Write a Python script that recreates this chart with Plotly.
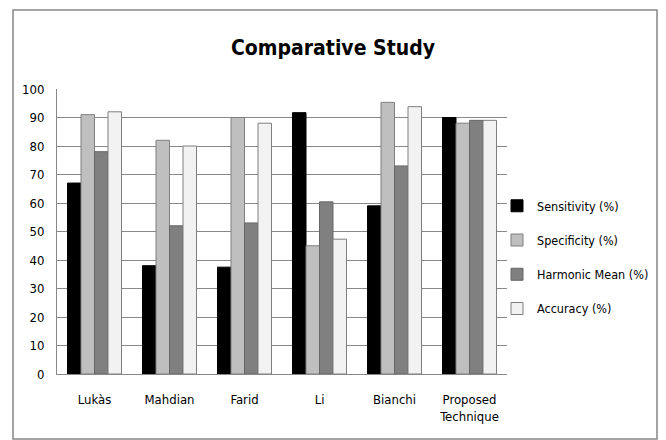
import plotly.graph_objects as go

categories = ["Lukàs", "Mahdian", "Farid", "Li", "Bianchi", "Proposed<br>Technique"]
sensitivity = [67, 38, 37.5, 91.7, 59, 90]
specificity = [91, 82, 90, 45, 95.3, 88]
harmonic_mean = [78, 52, 53, 60.4, 73, 89]
accuracy = [92, 80, 88, 47.3, 93.8, 89]

series = [
    ("Sensitivity (%)", sensitivity, "#000000", "#000000"),
    ("Specificity (%)", specificity, "#bfbfbf", "#7f7f7f"),
    ("Harmonic Mean (%)", harmonic_mean, "#808080", "#666666"),
    ("Accuracy (%)", accuracy, "#f2f2f2", "#7f7f7f"),
]

FONT = "DejaVu Sans Condensed, Liberation Sans Narrow, sans-serif"

# plot area in figure pixels (page body adds an 8px offset)
PL, PR, PT, PB = 49, 499, 81, 366
PW, PH = PR - PL, PB - PT

fig = go.Figure()
for i, (name, vals, color, line) in enumerate(series):
    fig.add_trace(go.Bar(
        x=categories, y=vals, name=name, legendgroup=str(i),
        marker=dict(color=color, line=dict(color=line, width=1)),
    ))

fig.update_layout(
    width=666, height=440,
    margin=dict(l=PL, r=666 - PR, t=PT, b=440 - PB, autoexpand=False),
    paper_bgcolor="white", plot_bgcolor="white",
    barmode="group", bargap=0.28, bargroupgap=0,
    font=dict(family=FONT, size=13, color="#000000"),
    title=dict(text="<b>Comparative Study</b>", x=325 / 666, xref="container", xanchor="center",
               y=1 - 40 / 440, yref="container", yanchor="middle",
               font=dict(family=FONT, size=21, color="#000000")),
    showlegend=True,
    legend=dict(x=(489 - PL) / PW, xanchor="left", y=0.41, yanchor="middle",
                traceorder="grouped", tracegroupgap=15,
                font=dict(family=FONT, size=12.5, color="#000000"),
                itemwidth=30, bgcolor="rgba(0,0,0,0)"),
    shapes=[dict(type="rect", xref="paper", yref="paper",
                 x0=(5 - PL) / PW, x1=(649 - PL) / PW,
                 y0=(PB - 431) / PH, y1=(PB - 2) / PH,
                 line=dict(color="#878787", width=1.5), layer="below")],
)
fig.update_yaxes(range=[0, 100], dtick=10, showgrid=True, gridcolor="#888888", gridwidth=1,
                 showline=True, linecolor="#888888", linewidth=1, zeroline=False,
                 ticks="", ticklabelstandoff=9, tickfont=dict(size=13, color="#000000"))
fig.update_xaxes(showline=True, linecolor="#888888", linewidth=1, ticks="",
                 ticklabelstandoff=13, tickfont=dict(size=13, color="#000000"))

fig.write_html("out.html")
